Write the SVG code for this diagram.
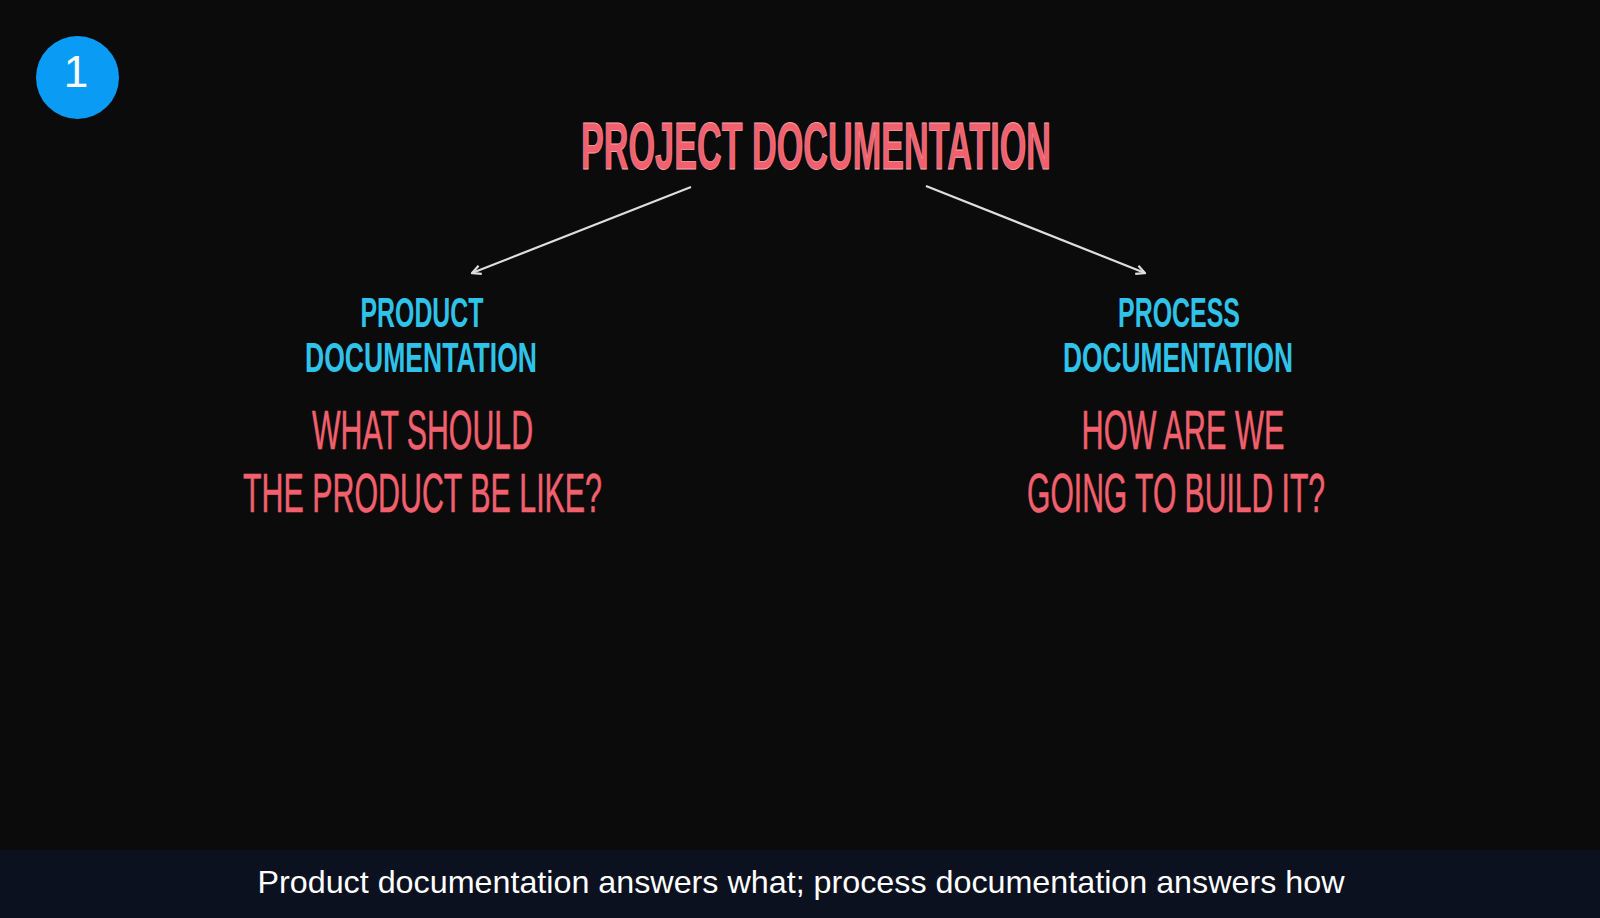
<svg xmlns="http://www.w3.org/2000/svg" width="1600" height="918" viewBox="0 0 1600 918">
  <style>
    .title { font-family: "Liberation Sans", Arial, sans-serif; font-weight: bold; fill: #f2606e; stroke: #f7a3ab; stroke-width: 0.8; }
    .sub { font-family: "Liberation Sans", Arial, sans-serif; font-weight: bold; fill: #2fc3ea; font-size: 43px; }
    .q { font-family: "Liberation Sans", Arial, sans-serif; font-weight: normal; fill: #f0606d; font-size: 56px; stroke: #f0606d; stroke-width: 0.6; }
    .cap { font-family: "Liberation Sans", Arial, sans-serif; fill: #ffffff; font-size: 32px; }
    .conn { stroke: #dedede; stroke-width: 2.2; fill: none; }
  </style>
  <defs>
    <marker id="arr" viewBox="0 0 10 10" refX="9" refY="5" markerWidth="5" markerHeight="5" orient="auto-start-reverse" markerUnits="strokeWidth">
      <path d="M1,1 L9,5 L1,9" fill="none" stroke="#dedede" stroke-width="2"/>
    </marker>
  </defs>
  <rect x="0" y="0" width="1600" height="918" fill="#0c0b0b"/>
  <rect x="0" y="850" width="1600" height="68" fill="#0c1120"/>

  <g id="badge">
    <circle cx="77.5" cy="77.5" r="41.5" fill="#0a9cf5"/>
    <text x="76" y="87" font-family="Liberation Sans, Arial, sans-serif" font-size="44" fill="#ffffff" text-anchor="middle">1</text>
  </g>

  <g id="project">
    <text class="title" x="816" y="169" font-size="66" text-anchor="middle" textLength="470" lengthAdjust="spacingAndGlyphs">PROJECT DOCUMENTATION</text>
  </g>

  <g id="connectors">
    <line class="conn" x1="691" y1="187" x2="472" y2="273" marker-end="url(#arr)"/>
    <line class="conn" x1="926" y1="186" x2="1145" y2="273" marker-end="url(#arr)"/>
  </g>

  <g id="product">
    <text class="sub" text-anchor="middle"><tspan x="422" y="327" textLength="123" lengthAdjust="spacingAndGlyphs">PRODUCT</tspan><tspan x="421" y="372" textLength="232" lengthAdjust="spacingAndGlyphs">DOCUMENTATION</tspan></text>
    <text class="q" text-anchor="middle"><tspan x="422.5" y="448.5" textLength="221" lengthAdjust="spacingAndGlyphs">WHAT SHOULD</tspan><tspan x="422.5" y="511.5" textLength="359" lengthAdjust="spacingAndGlyphs">THE PRODUCT BE LIKE?</tspan></text>
  </g>

  <g id="process">
    <text class="sub" text-anchor="middle"><tspan x="1179" y="327" textLength="122" lengthAdjust="spacingAndGlyphs">PROCESS</tspan><tspan x="1178" y="372" textLength="230" lengthAdjust="spacingAndGlyphs">DOCUMENTATION</tspan></text>
    <text class="q" text-anchor="middle"><tspan x="1183" y="448.5" textLength="203" lengthAdjust="spacingAndGlyphs">HOW ARE WE</tspan><tspan x="1176" y="511.5" textLength="298" lengthAdjust="spacingAndGlyphs">GOING TO BUILD IT?</tspan></text>
  </g>

  <g id="caption">
    <text class="cap" x="801" y="893" text-anchor="middle" textLength="1087" lengthAdjust="spacingAndGlyphs">Product documentation answers what; process documentation answers how</text>
  </g>
</svg>
